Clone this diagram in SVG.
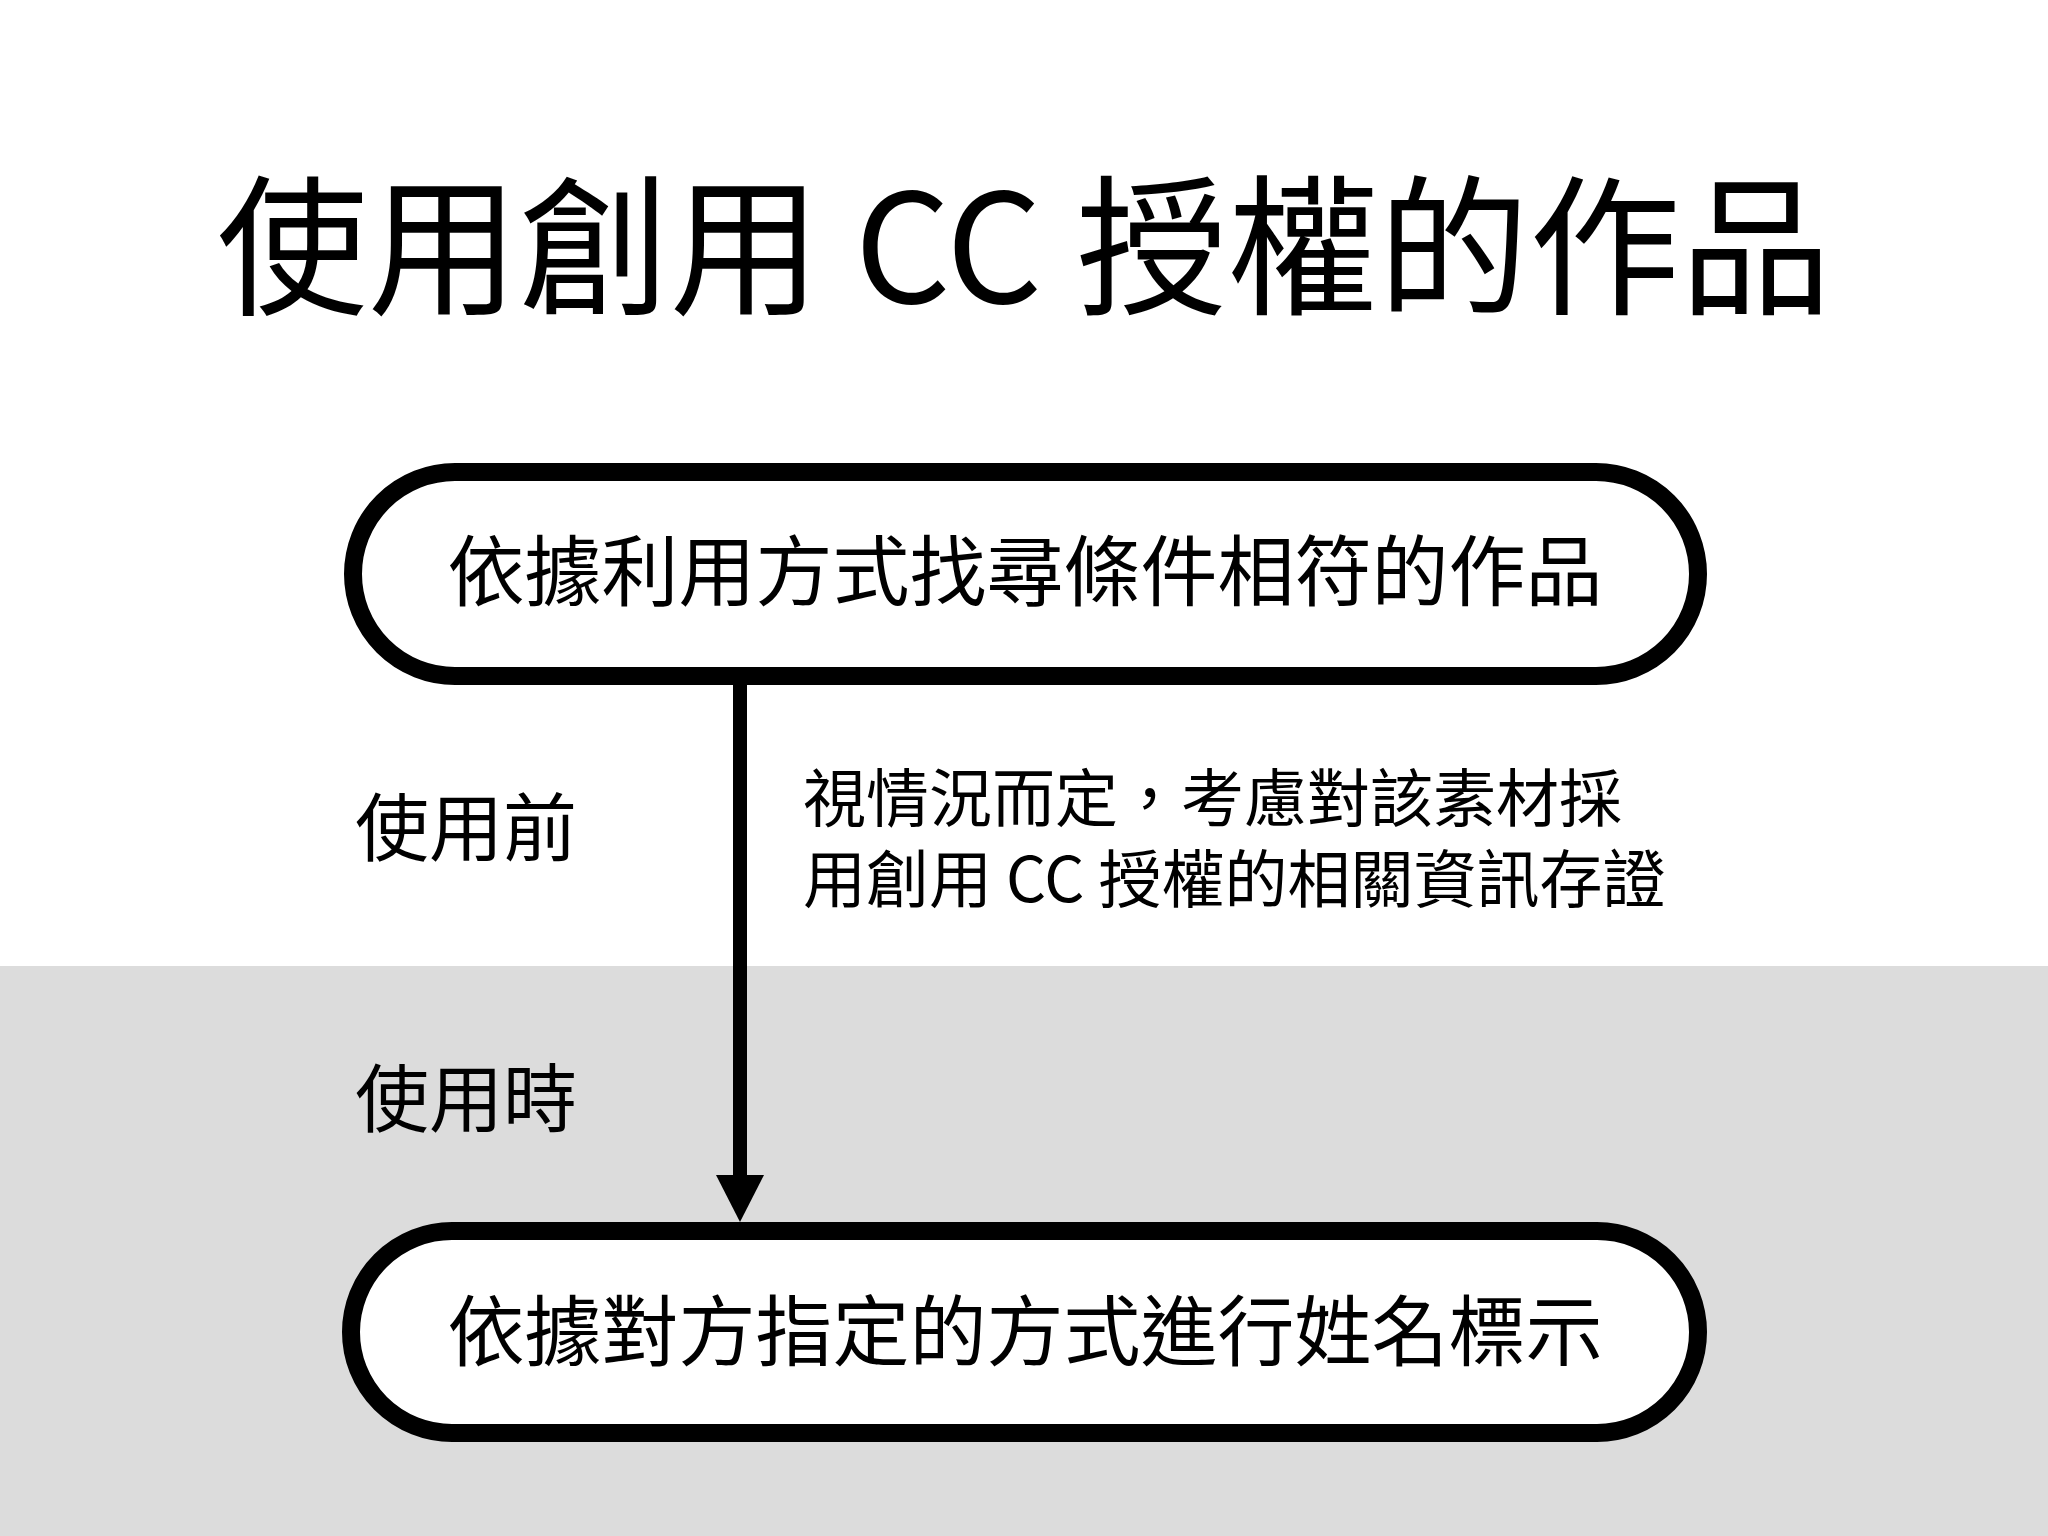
<svg xmlns="http://www.w3.org/2000/svg" width="2048" height="1536" viewBox="0 0 2048 1536">
<style>
text{font-family:"Noto Sans CJK TC","Noto Sans",sans-serif;fill:#000}
.pill{fill:#fff;stroke:#000;stroke-width:18}
</style>
<rect width="2048" height="1536" fill="#fff"/>
<rect y="966" width="2048" height="570" fill="#dcdcdc"/>
<text x="1024" y="303" font-size="151" text-anchor="middle">使用創用 CC 授權的作品</text>
<g id="connectors">
<line x1="740" y1="677" x2="740" y2="1180" stroke="#000" stroke-width="14"/>
<path d="M716,1175 L764,1175 L740,1222 Z" fill="#000"/>
</g>
<g id="n1"><rect class="pill" x="353" y="472" width="1345" height="204" rx="102"/>
<text x="1025" y="600" font-size="77" text-anchor="middle">依據利用方式找尋條件相符的作品</text></g>
<g id="n2"><rect class="pill" x="351" y="1231" width="1347" height="202" rx="101"/>
<text x="1025" y="1360" font-size="77" text-anchor="middle">依據對方指定的方式進行姓名標示</text></g>
<g id="labels">
<text x="355" y="855" font-size="74">使用前</text>
<text x="355" y="1126" font-size="74">使用時</text>
<text x="803" y="821" font-size="63">視情況而定，考慮對該素材採</text>
<text x="803" y="902" font-size="63">用創用 CC 授權的相關資訊存證</text>
</g>
</svg>
